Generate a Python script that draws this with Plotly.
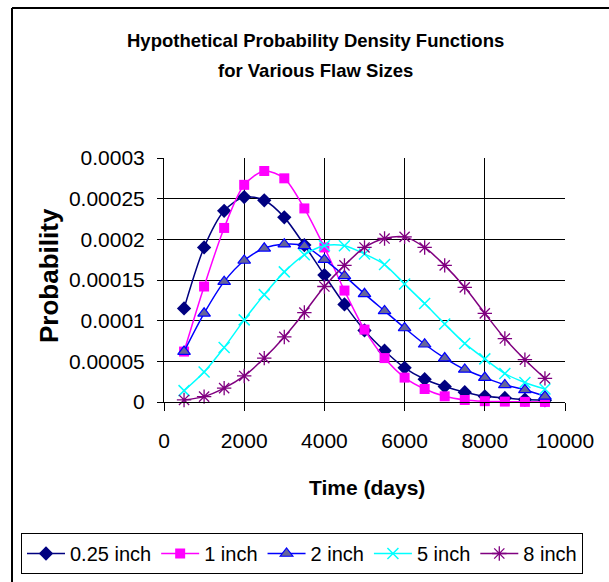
import plotly.graph_objects as go

# ---- data ----
time_days = [500, 1000, 1500, 2000, 2500, 3000, 3500, 4000, 4500, 5000,
             5500, 6000, 6500, 7000, 7500, 8000, 8500, 9000, 9500]

p_025 = [0.000115, 0.000190, 0.000235, 0.000252, 0.000248, 0.000227, 0.000193, 0.000156, 0.000120, 0.000088,
         0.000063, 0.000042, 0.000028, 0.000019, 0.000012, 0.000007, 0.000005, 0.000003, 0.000002]
p_1 = [0.000062, 0.000142, 0.000214, 0.000267, 0.000284, 0.000275, 0.000238, 0.000190, 0.000137, 0.000089,
       0.000054, 0.000030, 0.000016, 0.000007, 0.0000025, 0.000001, 0.0000005, 0.0000002, 0.0000001]
p_2 = [0.000062, 0.000109, 0.000148, 0.000174, 0.000189, 0.000194, 0.000192, 0.000175, 0.000155, 0.000133,
       0.000112, 0.000091, 0.000071, 0.000054, 0.000040, 0.000030, 0.000021, 0.000015, 0.000007]
p_5 = [0.000014, 0.000037, 0.000067, 0.000101, 0.000132, 0.000160, 0.000181, 0.000192, 0.000192, 0.000182,
       0.000169, 0.000145, 0.000121, 0.000096, 0.000072, 0.000053, 0.000035, 0.000024, 0.000016]
p_8 = [0.0000025, 0.0000066, 0.000017, 0.000032, 0.000054, 0.000080, 0.000110, 0.000142, 0.000168, 0.000190,
       0.000201, 0.000203, 0.000190, 0.000168, 0.000141, 0.000109, 0.000078, 0.000052, 0.000029]

series_names = ["0.25 inch", "1 inch", "2 inch", "5 inch", "8 inch"]

x_tickvals = [0, 2000, 4000, 6000, 8000, 10000]
x_ticktext = ["0", "2000", "4000", "6000", "8000", "10000"]
y_tickvals = [0, 0.00005, 0.0001, 0.00015, 0.0002, 0.00025, 0.0003]
y_ticktext = ["0", "0.00005", "0.0001", "0.00015", "0.0002", "0.00025", "0.0003"]

title_line1 = "Hypothetical Probability Density Functions"
title_line2 = "for Various Flaw Sizes"
x_title = "Time (days)"
y_title = "Probability"

FONT = "Liberation Sans, Arial, sans-serif"

styles = [
    dict(line=dict(color="#000080", width=1.5),
         marker=dict(symbol="diamond", size=11, color="#000080")),
    dict(line=dict(color="#FF00FF", width=1.5),
         marker=dict(symbol="square", size=10, color="#FF00FF")),
    dict(line=dict(color="#0000FF", width=1.5),
         marker=dict(symbol="triangle-up", size=11, color="#666699",
                     line=dict(color="#0000FF", width=1.2))),
    dict(line=dict(color="#00FFFF", width=1.5),
         marker=dict(symbol="x-thin-open", size=11, color="#00FFFF",
                     line=dict(color="#00FFFF", width=1.5))),
    dict(line=dict(color="#800080", width=1.5),
         marker=dict(symbol="asterisk-open", size=12, color="#800080",
                     line=dict(color="#800080", width=1.3))),
]

fig = go.Figure()
for name, ys, st in zip(series_names, [p_025, p_1, p_2, p_5, p_8], styles):
    fig.add_trace(go.Scatter(
        x=time_days, y=ys, name=name, mode="lines+markers",
        line=dict(shape="spline", smoothing=0.8, **st["line"]),
        marker=st["marker"], cliponaxis=False,
    ))

W, H = 609, 582
L, R, T, B = 164, 44, 158, 180
pw, ph = W - L - R, H - T - B

def px(xp):
    return (xp - L) / pw

def py(yp):
    return (H - B - yp) / ph

fig.update_layout(
    width=W, height=H,
    margin=dict(l=L, r=R, t=T, b=B, pad=0, autoexpand=False),
    paper_bgcolor="white", plot_bgcolor="white",
    font=dict(family=FONT, size=20, color="black"),
    showlegend=True,
    legend=dict(
        orientation="h", x=px(21), y=py(533), xanchor="left", yanchor="top",
        bordercolor="black", borderwidth=1, bgcolor="white",
        font=dict(family=FONT, size=20, color="black"),
        itemwidth=38,
    ),
    xaxis=dict(
        range=[0, 10000], tickvals=x_tickvals, ticktext=x_ticktext,
        showgrid=True, gridcolor="black", gridwidth=1,
        showline=True, linecolor="black", linewidth=1,
        ticks="outside", ticklen=8, tickcolor="black",
        ticklabelstandoff=12, zeroline=False,
        tickfont=dict(family=FONT, size=21, color="black"),
    ),
    yaxis=dict(
        range=[0, 0.0003], tickvals=y_tickvals, ticktext=y_ticktext,
        showgrid=True, gridcolor="black", gridwidth=1,
        showline=True, linecolor="black", linewidth=1,
        ticks="outside", ticklen=6, tickcolor="black",
        ticklabelstandoff=8, zeroline=False,
        tickfont=dict(family=FONT, size=21, color="black"),
    ),
)

annotations = [
    dict(text="<b>" + title_line1 + "</b>", x=px(315.5), y=py(40),
         font=dict(family=FONT, size=18.5, color="black")),
    dict(text="<b>" + title_line2 + "</b>", x=px(315.5), y=py(70),
         font=dict(family=FONT, size=18.5, color="black")),
    dict(text="<b>" + x_title + "</b>", x=px(366.5), y=py(487),
         font=dict(family=FONT, size=21, color="black")),
    dict(text="<b>" + y_title + "</b>", x=px(49), y=py(276), textangle=-90,
         font=dict(family=FONT, size=26, color="black")),
]
for a in annotations:
    fig.add_annotation(xref="paper", yref="paper", showarrow=False,
                       xanchor="center", yanchor="middle", **a)

# outer chart border: top and left edges (right/bottom lie outside the view)
fig.add_shape(type="line", xref="paper", yref="paper",
              x0=px(12), y0=py(8), x1=px(700), y1=py(8),
              line=dict(color="black", width=2), layer="below")
fig.add_shape(type="line", xref="paper", yref="paper",
              x0=px(12), y0=py(8), x1=px(12), y1=py(700),
              line=dict(color="black", width=2), layer="below")

fig.write_html("out.html")
